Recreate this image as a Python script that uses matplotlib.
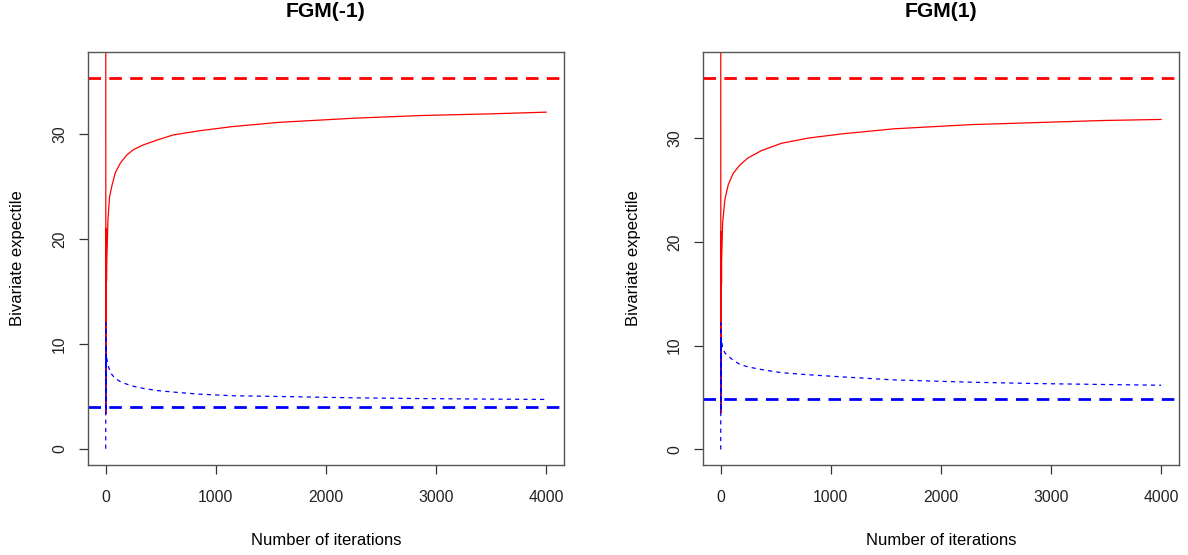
import matplotlib
matplotlib.use("Agg")
import matplotlib.pyplot as plt

plt.rcParams["font.family"] = ["Liberation Sans", "DejaVu Sans"]
plt.rcParams["lines.scale_dashes"] = False

# FGM(-1)
iters_left = [1, 2, 3, 4, 5, 6, 7, 8, 10, 12, 21, 36, 58, 88, 133, 193, 253,
              343, 464, 614, 855, 1157, 1578, 2271, 2873, 3475, 4000]
red_left = [60.0, 3.3, 19.0, 8.0, 21.0, 14.0, 18.0, 16.0, 17.5, 18.3, 21.8,
            24.0, 25.1, 26.3, 27.2, 28.0, 28.5, 28.95, 29.4, 29.9, 30.3, 30.7,
            31.1, 31.5, 31.75, 31.9, 32.07]
blue_left = [0.0, 12.0, 3.5, 9.5, 6.0, 9.0, 8.0, 8.8, 8.6, 8.5, 8.0,
             7.5, 7.05, 6.7, 6.4, 6.15, 5.95, 5.75, 5.55, 5.4, 5.2, 5.05,
             4.98, 4.85, 4.78, 4.73, 4.7]
red_true_left = 35.35
blue_true_left = 3.98

# FGM(1)
iters_right = [1, 2, 3, 4, 5, 6, 7, 8, 9, 18, 39, 69, 114, 174, 250, 371, 552,
               792, 1094, 1576, 2269, 2872, 3475, 4000]
red_right = [60.0, 3.5, 19.0, 8.0, 21.0, 14.0, 18.0, 16.0, 18.1, 21.8, 24.1,
             25.5, 26.6, 27.4, 28.1, 28.8, 29.5, 30.0, 30.4, 30.9, 31.3, 31.5,
             31.7, 31.8]
blue_right = [0.0, 12.2, 3.6, 10.5, 7.0, 10.8, 9.8, 10.5, 10.4, 9.8, 9.3,
              9.0, 8.6, 8.2, 7.95, 7.7, 7.4, 7.2, 7.0, 6.7, 6.48, 6.35,
              6.26, 6.19]
red_true_right = 35.8
blue_true_right = 4.88

panels = [
    ("FGM(-1)", iters_left, red_left, blue_left, red_true_left, blue_true_left,
     (-1.5, 37.8)),
    ("FGM(1)", iters_right, red_right, blue_right, red_true_right, blue_true_right,
     (-1.45, 38.3)),
]

W, H = 1188, 555
fig = plt.figure(figsize=(W / 100, H / 100), dpi=100)
lefts = [88, 703]

for left, (title, it, red, blue, rt, bt, ylim) in zip(lefts, panels):
    ax = fig.add_axes([left / W, (H - 464.5) / H, 475.7 / W, 412.5 / H])
    ax.plot(it, red, color="red", lw=0.9)
    ax.plot(it, blue, color="blue", lw=0.9, dashes=(3.0, 3.0))
    ax.axhline(rt, color="red", lw=2.0, dashes=(9.0, 6.0))
    ax.axhline(bt, color="blue", lw=2.0, dashes=(9.0, 6.0))
    ax.set_xlim(-160, 4160)
    ax.set_ylim(*ylim)
    ax.set_xticks([0, 1000, 2000, 3000, 4000])
    ax.set_yticks([0, 10, 20, 30])
    ax.set_yticklabels(["0", "10", "20", "30"], rotation=90, va="center")
    ax.tick_params(direction="out", length=6.2, width=0.9, color="#333333",
                   labelsize=11.3, labelcolor="#222222")
    ax.tick_params(axis="x", pad=12.5)
    ax.tick_params(axis="y", pad=9)
    for s in ax.spines.values():
        s.set_color("#555555")
        s.set_linewidth(1.0)
    ax.set_title(title, fontsize=15.2, fontweight="bold", pad=25)
    ax.set_xlabel("Number of iterations", fontsize=12, labelpad=20)
    ax.set_ylabel("Bivariate expectile", fontsize=12, labelpad=19)

fig.savefig("out.png", dpi=100)
